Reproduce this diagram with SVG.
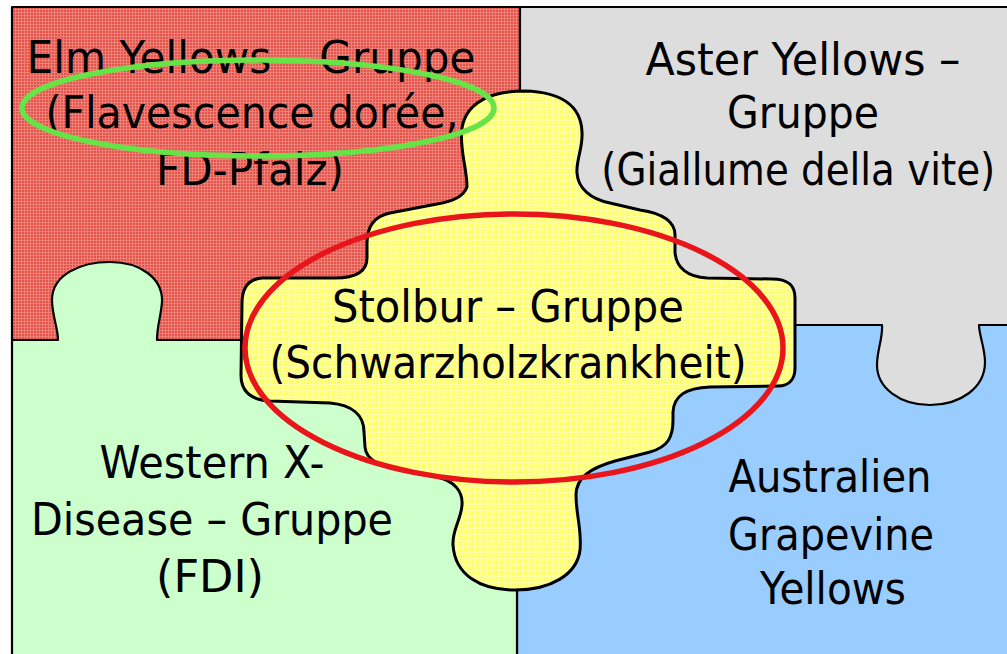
<svg xmlns="http://www.w3.org/2000/svg" width="1007" height="654" viewBox="0 0 1007 654">
<defs>
<pattern id="pRed" width="3" height="3" patternUnits="userSpaceOnUse">
<rect width="3" height="3" fill="#E4534A"/>
<rect width="3" height="1" fill="#EE8078"/>
<rect width="1" height="3" fill="#EE8078"/>
</pattern>
<pattern id="pYel" width="3" height="3" patternUnits="userSpaceOnUse">
<rect width="3" height="3" fill="#FFFF66"/>
<rect width="3" height="1" fill="#FFFFA8"/>
<rect width="1" height="3" fill="#FFFFA8"/>
</pattern>
</defs>
<style>
.piece{stroke:#000;stroke-width:2.2;stroke-linejoin:round}
.outline{fill:none;stroke:#000;stroke-width:3}
.t{font-family:"DejaVu Sans","Liberation Sans",sans-serif;font-size:45px;fill:#000;text-anchor:middle}
.ring{fill:none;stroke-width:5.5}
</style>
<rect width="1007" height="654" fill="#fff"/>
<g id="elm-yellows">
<path class="piece" fill="url(#pRed)" d="M12 7 L520 7 L520 340 L12 340 Z"/>
</g>
<g id="australien">
<path class="piece" fill="#99CCFF" d="M517 325 L1012 325 L1012 660 L517 660 Z"/>
</g>
<g id="aster-yellows">
<path class="piece" fill="#DDDDDD" d="M520 7 L1012 7 L1012 325 L979 325 C979 335 985 348 985 362 C985 388 960 405 930 405 C900 405 877 388 877 365 C877 350 883 338 882 325 L520 325 Z"/>
</g>
<g id="western-x">
<path class="piece" fill="#CCFFCC" d="M12 340 L58 340 C58 328 52 315 52 300 C52 275 80 262 110 262 C140 262 163 278 162 302 C161 316 157 326 157 340 L517 340 L517 660 L12 660 Z"/>
</g>
<g id="stolbur">
<path class="outline" style="fill:url(#pYel)" d="M467 187 C463 198 450 202 437 204 L390 213 C375 216 367 225 367 243 L367 258 C367 272 355 278 335 278 L262 278 C248 279 242 288 242 303 L241 375 C241 392 252 400 270 401 L330 403 C352 405 364 415 364 432 L365 447 C366 462 385 468 405 471 L437 477 C455 481 463 492 462 505 C461 520 452 530 453 545 C455 575 480 590 515 590 C550 590 577 575 580 550 C582 530 576 515 576 495 C576 478 590 468 615 461 L650 452 C668 447 673 437 673 420 L673 412 C674 396 685 388 710 387 L778 386 C790 386 795 378 795 368 L795 298 C795 285 788 279 772 279 L707 278 C688 277 676 268 675 252 L675 235 C675 220 660 213 640 210 L610 203 C590 199 578 188 577 173 C576 160 583 148 582 132 C581 105 560 92 525 91 C490 91 466 103 462 128 C459 148 467 168 467 187 Z"/>
</g>
<g id="labels">
<text class="t" x="251" y="73" textLength="449" lengthAdjust="spacingAndGlyphs">Elm Yellows – Gruppe</text>
<text class="t" x="252" y="128" textLength="413" lengthAdjust="spacingAndGlyphs">(Flavescence dorée,</text>
<text class="t" x="250" y="185" textLength="188" lengthAdjust="spacingAndGlyphs">FD-Pfalz)</text>
<text class="t" x="803" y="75" textLength="315" lengthAdjust="spacingAndGlyphs">Aster Yellows –</text>
<text class="t" x="803" y="128" textLength="152" lengthAdjust="spacingAndGlyphs">Gruppe</text>
<text class="t" transform="scale(0.862 1)" x="926" y="185">(Giallume della vite)</text>
<text class="t" x="508" y="322" textLength="352" lengthAdjust="spacingAndGlyphs">Stolbur – Gruppe</text>
<text class="t" x="508" y="378" textLength="477" lengthAdjust="spacingAndGlyphs">(Schwarzholzkrankheit)</text>
<text class="t" x="212" y="478" textLength="225" lengthAdjust="spacingAndGlyphs">Western X-</text>
<text class="t" x="212" y="535" textLength="362" lengthAdjust="spacingAndGlyphs">Disease – Gruppe</text>
<text class="t" x="210" y="592" textLength="108" lengthAdjust="spacingAndGlyphs">(FDI)</text>
<text class="t" x="830" y="492" textLength="203" lengthAdjust="spacingAndGlyphs">Australien</text>
<text class="t" x="831" y="550" textLength="206" lengthAdjust="spacingAndGlyphs">Grapevine</text>
<text class="t" x="833" y="604" textLength="146" lengthAdjust="spacingAndGlyphs">Yellows</text>
</g>
<g id="highlights">
<ellipse class="ring" cx="258" cy="108" rx="236" ry="48" stroke="#66E447"/>
<ellipse class="ring" cx="514" cy="348" rx="269" ry="134" stroke="#E8161B"/>
</g>
</svg>
